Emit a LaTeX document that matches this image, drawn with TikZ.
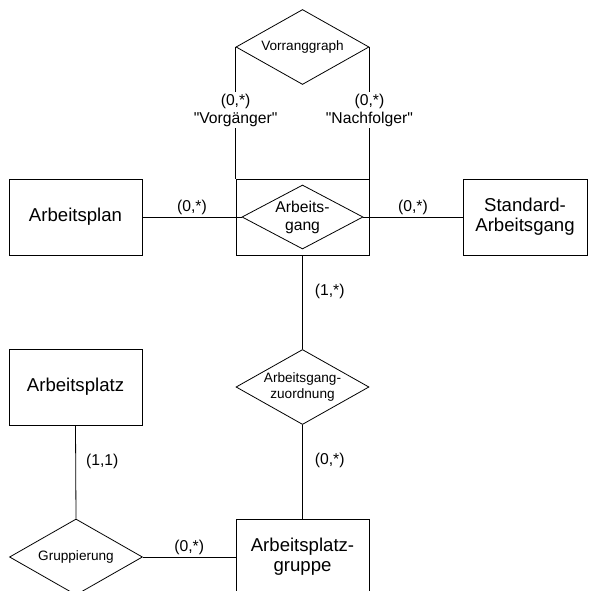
\documentclass[tikz,border=0pt]{standalone}
\usepackage{fontspec}
\setmainfont{Liberation Sans}[Ligatures=TeXOff]
\usetikzlibrary{positioning,shapes.geometric}

\begin{document}
\begin{tikzpicture}
		[x=1pt, y=-1pt, line width=0.8pt,
		entity/.style={draw, rectangle, minimum width=133pt, minimum height=76pt, inner sep=0pt, align=center, font=\fontsize{18.6}{20}\selectfont},
		relation/.style={draw, diamond, shape aspect=1.76, inner sep=0pt, minimum width=133pt, minimum height=75pt, align=center, font=\fontsize{13.6}{16}\selectfont},
		card/.style={font=\fontsize{15.7}{18}\selectfont, inner sep=2pt, align=center}]
		\useasboundingbox (0,0) rectangle (590,591);

		\node[relation] (vorrang) at (302.5,47) {Vorranggraph};
		\node[entity] (agbox) at (302.5,217) {};
		\node[relation, minimum width=121pt, minimum height=64pt, shape aspect=1.9, font=\fontsize{15.7}{18}\selectfont] (gang) at (302.5,217) {Arbeits-\\gang};
		\node[entity] (plan) at (75.5,217) {Arbeitsplan};
		\node[entity, minimum width=124pt] (std) at (525,217) {Standard-\\Arbeitsgang};
		\node[relation] (zuord) at (302.5,387) {Arbeitsgang-\\zuordnung};
		\node[entity] (platz) at (75.5,387) {Arbeitsplatz};
		\node[relation, minimum height=76pt] (grupp) at (76,557) {Gruppierung};
		\node[entity] (gruppe) at (302.5,557) {Arbeitsplatz-\\gruppe};

		\draw (vorrang.west) -- node[card, fill=white, pos=0.48] (vg) {(0,*)\\"Vorgänger"} (agbox.north west);
		\draw (vorrang.east) -- node[card, fill=white, pos=0.48] (nf) {(0,*)\\"Nachfolger"} (agbox.north east);
		\draw (plan.east) -- node[card, above] (c1) {(0,*)} (gang.west);
		\draw (gang.east) -- node[card, above] (c2) {(0,*)} (std.west);
		\draw (agbox.south) -- node[card, right=10pt, pos=0.38] (c3) {(1,*)} (zuord.north);
		\draw (zuord.south) -- node[card, right=10pt, pos=0.38] (c4) {(0,*)} (gruppe.north);
		\draw (platz.south) -- node[card, right=8pt, pos=0.39] (c5) {(1,1)} (grupp.north);
		\draw (grupp.east) -- node[card, above] (c6) {(0,*)} (gruppe.west);
	\end{tikzpicture}
\end{document}
